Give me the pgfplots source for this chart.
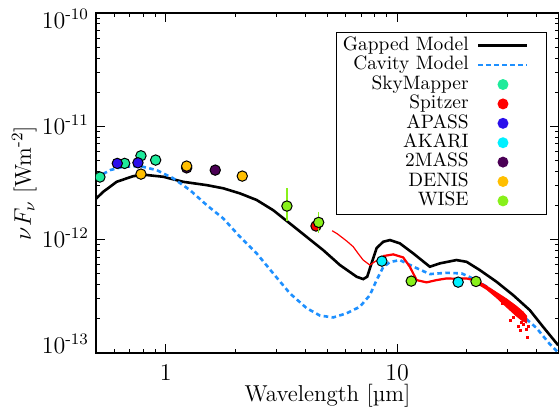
\documentclass[border=0pt]{standalone}
\usepackage{pgfplots}
\pgfplotsset{compat=1.18}
\definecolor{skycol}{RGB}{30,235,155}
\definecolor{spitcol}{RGB}{255,0,0}
\definecolor{apasscol}{RGB}{42,15,235}
\definecolor{akaricol}{RGB}{0,240,255}
\definecolor{tmasscol}{RGB}{75,0,85}
\definecolor{deniscol}{RGB}{255,191,0}
\definecolor{wisecol}{RGB}{136,240,26}
\definecolor{cavcol}{RGB}{30,144,255}
\pgfplotsset{
  photdot/.style={only marks, mark=*, mark size=2.6pt, draw=black, line width=0.5pt, fill=#1},
}
\begin{document}
\begin{tikzpicture}
\begin{axis}[
  name=ax,
  xmode=log, ymode=log,
  scale only axis, width=231.5pt, height=170pt,
  xmin=0.5, xmax=50, ymin=1e-13, ymax=1e-10,
  xtick={1,10}, xticklabels={1,10},
  minor xtick={0.6,0.7,0.8,0.9,2,3,4,5,6,7,8,9,20,30,40},
  ytick={1e-13,1e-12,1e-11,1e-10},
  yticklabels={10\textsuperscript{-13},\raisebox{-3.9pt}{10\textsuperscript{-12}},\raisebox{-3.9pt}{10\textsuperscript{-11}},\raisebox{-7.7pt}{10\textsuperscript{-10}}},
  minor ytick={2e-13,3e-13,4e-13,5e-13,6e-13,7e-13,8e-13,9e-13,2e-12,3e-12,4e-12,5e-12,6e-12,7e-12,8e-12,9e-12,2e-11,3e-11,4e-11,5e-11,6e-11,7e-11,8e-11,9e-11},
  tick align=inside, tick pos=both,
  major tick length=4.5pt, minor tick length=2.2pt,
  axis line style={line width=1pt},
  every tick/.style={black, line width=0.5pt},
  yticklabel style={anchor=base east, font=\fontsize{12}{14}\selectfont},
  xticklabel style={font=\fontsize{12}{14}\selectfont, yshift=-2pt},
  every axis x label/.style={at={([yshift=-24pt]axis description cs:0.5,0)}, anchor=base},
  every axis y label/.style={at={([xshift=-32.5pt]axis description cs:0,0.5)}, rotate=90, anchor=base},
  label style={font=\fontsize{11.5}{13}\selectfont},
  xlabel={Wavelength [µm]},
  ylabel={$\nu F_\nu$ [Wm\textsuperscript{-2}]},
  clip marker paths=true,
  legend style={at={(1,1)}, anchor=north east, xshift=-6pt, yshift=-9.5pt, draw=black, line width=0.5pt,
    inner xsep=3pt, inner ysep=1.75pt, font=\fontsize{9.7}{11.6}\selectfont, column sep=4pt, row sep=0pt,
    nodes={inner sep=0.25pt, text height=7pt, text depth=2.2pt}},
  legend cell align=right, legend plot pos=right,
]
% legend entries
\addlegendimage{legend image code/.code={\draw[black,solid,line width=1.3pt] (0pt,0pt)--(24.5pt,0pt); \path[draw=none] (31pt,0pt);}}
\addlegendentry{Gapped Model}
\addlegendimage{legend image code/.code={\draw[cavcol,line width=1.3pt,dash pattern=on 2.3pt off 1.7pt] (0pt,0pt)--(24.5pt,0pt); \path[draw=none] (31pt,0pt);}}
\addlegendentry{Cavity Model}
\addlegendimage{legend image code/.code={\path[draw=none] (0pt,0pt)--(31pt,0pt); \fill[skycol,draw=none] (12.25pt,0pt) circle (2.75pt);}}
\addlegendentry{SkyMapper}
\addlegendimage{legend image code/.code={\path[draw=none] (0pt,0pt)--(31pt,0pt); \fill[spitcol,draw=none] (12.25pt,0pt) circle (2.75pt);}}
\addlegendentry{Spitzer}
\addlegendimage{legend image code/.code={\path[draw=none] (0pt,0pt)--(31pt,0pt); \fill[apasscol,draw=none] (12.25pt,0pt) circle (2.75pt);}}
\addlegendentry{APASS}
\addlegendimage{legend image code/.code={\path[draw=none] (0pt,0pt)--(31pt,0pt); \fill[akaricol,draw=none] (12.25pt,0pt) circle (2.75pt);}}
\addlegendentry{AKARI}
\addlegendimage{legend image code/.code={\path[draw=none] (0pt,0pt)--(31pt,0pt); \fill[tmasscol,draw=none] (12.25pt,0pt) circle (2.75pt);}}
\addlegendentry{2MASS}
\addlegendimage{legend image code/.code={\path[draw=none] (0pt,0pt)--(31pt,0pt); \fill[deniscol,draw=none] (12.25pt,0pt) circle (2.75pt);}}
\addlegendentry{DENIS}
\addlegendimage{legend image code/.code={\path[draw=none] (0pt,0pt)--(31pt,0pt); \fill[wisecol,draw=none] (12.25pt,0pt) circle (2.75pt);}}
\addlegendentry{WISE}

% Gapped model
\addplot[forget plot, black, line width=1.3pt] coordinates {
(0.5,2.30e-12) (0.538,2.65e-12) (0.614,3.24e-12) (0.725,3.64e-12) (0.828,3.72e-12) (0.976,3.59e-12)
(1.191,3.24e-12) (1.503,3.03e-12) (1.773,2.84e-12) (2.094,2.56e-12) (2.471,2.24e-12) (2.914,1.82e-12)
(3.44,1.39e-12) (4.06,1.06e-12) (4.79,8.09e-13) (5.66,5.97e-13) (6.68,4.71e-13) (7.13,4.49e-13)
(7.42,4.71e-13) (7.75,6.18e-13) (8.15,8.43e-13) (8.70,9.58e-13) (9.30,9.92e-13) (10.27,9.28e-13)
(11.73,7.57e-13) (13.84,5.77e-13) (15.29,6.18e-13) (18.05,6.61e-13) (19.94,6.38e-13) (22.75,5.39e-13)
(26.87,4.25e-13) (31.7,3.24e-13) (37.4,2.39e-13) (42.7,1.70e-13) (49.6,1.17e-13)
};
% Cavity model
\addplot[forget plot, cavcol, line width=1.3pt, dash pattern=on 2.3pt off 1.7pt] coordinates {
(0.5,3.50e-12) (0.575,4.11e-12) (0.656,4.40e-12) (0.774,4.46e-12) (0.914,4.11e-12) (1.078,3.48e-12)
(1.273,2.74e-12) (1.503,2.02e-12) (1.773,1.54e-12) (2.094,1.06e-12) (2.471,7.57e-13) (2.914,5.04e-13)
(3.44,3.36e-13) (4.06,2.49e-13) (4.64,2.14e-13) (5.29,2.06e-13) (6.05,2.24e-13) (6.90,2.56e-13)
(7.62,3.24e-13) (8.15,4.40e-13) (8.70,5.73e-13) (9.30,6.34e-13) (10.27,6.61e-13) (12.13,5.61e-13)
(13.84,4.97e-13) (16.34,5.10e-13) (18.97,5.04e-13) (20.6,4.68e-13) (24.32,3.86e-13) (28.7,2.93e-13)
(33.9,2.24e-13) (40.0,1.66e-13) (45.6,1.20e-13) (49.4,1.02e-13)
};
% Spitzer spectrum
\addplot[forget plot, spitcol, line width=0.6pt] coordinates {
(5.24,1.199e-12) (5.5,1.13e-12) (5.85,1.027e-12) (6.1,9.6e-13) (6.46,8.66e-13) (6.8,7.5e-13) (7.13,6.61e-13) (7.62,5.97e-13) (8.2,6.6e-13) (8.70,7.16e-13)
(9.61,7.42e-13) (10.61,6.98e-13) (11.34,5.77e-13) (12.13,4.40e-13) (13.40,4.20e-13) (14.79,4.40e-13)
(16.34,4.55e-13) (18.05,4.52e-13) (19.94,4.55e-13) (22.02,4.34e-13)
};
\addplot[forget plot, spitcol, line width=1.1pt] coordinates {
(8.70,7.16e-13) (9.61,7.42e-13) (10.61,6.98e-13) (11.34,5.77e-13) (12.13,4.40e-13) (13.40,4.20e-13) (14.79,4.40e-13)
(16.34,4.55e-13) (18.05,4.52e-13) (19.94,4.55e-13) (22.02,4.34e-13) (24.32,3.84e-13)
};
\addplot[forget plot, spitcol, fill=spitcol, line width=0.5pt] coordinates {
(21.5,4.45e-13) (24.32,3.90e-13) (26.87,3.42e-13) (29.67,3.00e-13) (32.78,2.58e-13) (35.0,2.30e-13) (36.2,2.12e-13)
(36.2,1.85e-13) (34.5,1.95e-13) (32.78,2.12e-13) (29.67,2.55e-13) (26.87,3.08e-13) (24.32,3.65e-13) (21.5,4.25e-13)
} -- cycle;
\addplot[forget plot, only marks, mark=square*, mark size=0.5pt, spitcol] coordinates {
(30.7,1.95e-13) (33.4,1.73e-13) (33.9,1.59e-13) (36.7,1.73e-13) (36.5,1.38e-13) (35.2,1.80e-13) (31.8,2.05e-13)
(34.5,1.85e-13) (28.5,2.75e-13) (36.0,1.62e-13)
};
% photometry
\addplot[forget plot, photdot=skycol] coordinates {(0.52,3.57e-12) (0.665,4.71e-12) (0.782,5.50e-12) (0.905,5.04e-12)};
\addplot[forget plot, photdot=spitcol] coordinates {(4.46,1.32e-12)};
\addplot[forget plot, photdot=apasscol] coordinates {(0.49,3.29e-12) (0.618,4.71e-12) (0.759,4.77e-12)};
\addplot[forget plot, photdot=akaricol] coordinates {(8.59,6.47e-13) (18.34,4.22e-13)};
\addplot[forget plot, photdot=tmasscol] coordinates {(1.232,4.30e-12) (1.637,4.11e-12)};
\addplot[forget plot, photdot=deniscol] coordinates {(0.782,3.79e-12) (1.232,4.46e-12) (2.142,3.64e-12)};
\addplot[forget plot, photdot=wisecol, error bars/.cd, y dir=both, y explicit, error mark=none,
  error bar style={wisecol, line width=0.8pt}] coordinates {
(3.34,1.98e-12) += (0,0.86e-12) -= (0,0.52e-12)
(4.58,1.42e-12) += (0,0.34e-12) -= (0,0.27e-12)
(11.5,4.31e-13) += (0,0) -= (0,0)
(21.9,4.28e-13) += (0,0) -= (0,0)
};
\end{axis}
\pgfresetboundingbox
\path ([xshift=-48pt,yshift=-29.5pt]ax.south west) rectangle ([yshift=6.5pt]ax.north east);
\end{tikzpicture}
\end{document}
